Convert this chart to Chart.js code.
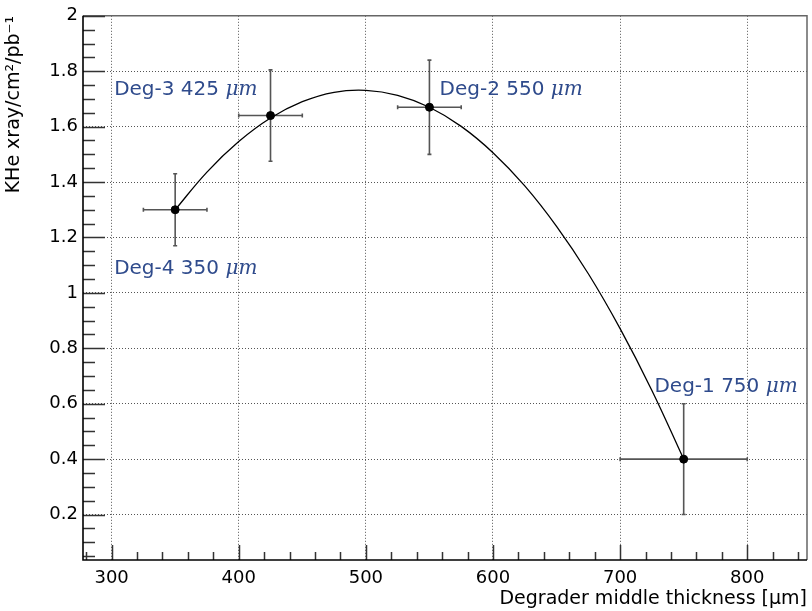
<!DOCTYPE html>
<html><head><meta charset="utf-8">
<script src="https://cdn.jsdelivr.net/npm/chart.js@4/dist/chart.umd.min.js"></script>
<style>html,body{margin:0;padding:0;background:#fff}#wrap{width:812px;height:611px}</style>
</head><body><div id="wrap"><canvas id="c" width="812" height="611"></canvas></div>
<script>
// ---- data ----
const degNames = ['Deg-4', 'Deg-3', 'Deg-2', 'Deg-1'];
const thickness = [350, 425, 550, 750];
const yieldVals = [1.30, 1.64, 1.67, 0.40];
const thicknessErr = [25, 25, 25, 50];
const yieldErr = [0.13, 0.165, 0.17, 0.20];
const fitX = [350, 375, 400, 425, 450, 475, 500, 525, 550, 575, 600, 625, 650, 675, 700, 725, 750];
const fitY = [1.300, 1.436, 1.546, 1.631, 1.690, 1.724, 1.731, 1.713, 1.670, 1.601, 1.506, 1.386, 1.240, 1.069, 0.871, 0.648, 0.400];
const xTicks = [300, 400, 500, 600, 700, 800];
const yTicks = [0.2, 0.4, 0.6, 0.8, 1, 1.2, 1.4, 1.6, 1.8, 2];
// annotation anchors (data coordinates of each label's left baseline)
const labelX = [302, 302, 558, 727];
const labelY = [1.068, 1.713, 1.713, 0.643];

const X_MIN = 277.5, X_MAX = 847, Y_MIN = 0.036, Y_MAX = 2;
const AXIS_FONT = "'DejaVu Sans', Arial";

const deco = {
  id: 'deco',
  beforeDatasetsDraw(chart) {
    const {ctx, scales: {x, y}} = chart;
    ctx.save();
    ctx.strokeStyle = '#555';
    ctx.lineWidth = 1.6;
    thickness.forEach((t, i) => {
      const px = x.getPixelForValue(t), py = y.getPixelForValue(yieldVals[i]);
      const x0 = x.getPixelForValue(t - thicknessErr[i]), x1 = x.getPixelForValue(t + thicknessErr[i]);
      const y0 = y.getPixelForValue(yieldVals[i] - yieldErr[i]), y1 = y.getPixelForValue(yieldVals[i] + yieldErr[i]);
      ctx.beginPath();
      ctx.moveTo(x0, py); ctx.lineTo(x1, py);
      ctx.moveTo(px, y0); ctx.lineTo(px, y1);
      ctx.moveTo(x0, py - 2); ctx.lineTo(x0, py + 2);
      ctx.moveTo(x1, py - 2); ctx.lineTo(x1, py + 2);
      ctx.moveTo(px - 2, y0); ctx.lineTo(px + 2, y0);
      ctx.moveTo(px - 2, y1); ctx.lineTo(px + 2, y1);
      ctx.stroke();
    });
    ctx.restore();
  },
  afterDraw(chart) {
    const {ctx, chartArea: a, scales: {x, y}} = chart;
    ctx.save();
    // top/right frame
    ctx.strokeStyle = '#666'; ctx.lineWidth = 1.5;
    ctx.beginPath();
    ctx.moveTo(a.left, a.top); ctx.lineTo(a.right, a.top); ctx.lineTo(a.right, a.bottom);
    ctx.stroke();
    // ticks
    ctx.strokeStyle = '#333'; ctx.lineWidth = 1.5;
    ctx.beginPath();
    for (let v = 280; v <= X_MAX; v += 20) {
      const px = Math.round(x.getPixelForValue(v)) + 0.5;
      const len = (v % 100 === 0) ? 15 : 8;
      ctx.moveTo(px, a.bottom); ctx.lineTo(px, a.bottom - len);
    }
    for (let k = 1; k <= 40; k++) {
      const v = k * 0.05;
      const py = Math.round(y.getPixelForValue(v)) + 0.5;
      const len = (k % 4 === 0) ? 22 : 12;
      ctx.moveTo(a.left, py); ctx.lineTo(a.left + len, py);
    }
    ctx.stroke();
    // axes
    ctx.strokeStyle = '#000'; ctx.lineWidth = 1.6;
    ctx.beginPath();
    ctx.moveTo(a.left, a.top); ctx.lineTo(a.left, a.bottom); ctx.lineTo(a.right, a.bottom);
    ctx.stroke();
    // labels
    ctx.fillStyle = '#2f4b8c';
    ctx.textBaseline = 'alphabetic';
    ctx.textAlign = 'left';
    degNames.forEach((n, i) => {
      const px = x.getPixelForValue(labelX[i]), py = y.getPixelForValue(labelY[i]);
      const main = n + ' ' + thickness[i] + ' ';
      ctx.font = "20px 'DejaVu Sans'";
      ctx.fillText(main, px, py);
      const w = ctx.measureText(main).width;
      ctx.font = "italic 20px 'DejaVu Serif'";
      ctx.fillText('\u03bcm', px + w, py);
    });
    ctx.restore();
  }
};

new Chart(document.getElementById('c'), {
  data: {
    datasets: [
      {
        type: 'line',
        data: fitX.map((v, i) => ({x: v, y: fitY[i]})),
        borderColor: '#000', borderWidth: 1.3, pointRadius: 0,
        tension: 0.4, fill: false
      },
      {
        type: 'scatter',
        data: thickness.map((v, i) => ({x: v, y: yieldVals[i]})),
        backgroundColor: '#000', borderColor: '#000', pointRadius: 4
      }
    ]
  },
  options: {
    responsive: false, animation: false, devicePixelRatio: 1,
    layout: {padding: {left: 0, top: 11, right: 3, bottom: 0}},
    plugins: {legend: {display: false}, tooltip: {enabled: false}},
    scales: {
      x: {
        type: 'linear', min: X_MIN, max: X_MAX,
        afterBuildTicks: s => { s.ticks = xTicks.map(v => ({value: v})); },
        afterFit: s => { s.height = 51; },
        grid: {color: '#555', lineWidth: 1, drawTicks: false},
        border: {display: false, dash: [1, 2]},
        ticks: {color: '#000', font: {family: AXIS_FONT, size: 18}, padding: 8, maxRotation: 0},
        title: {display: true, text: 'Degrader middle thickness [\u03bcm]', align: 'end', color: '#000',
                font: {family: AXIS_FONT, size: 19}, padding: {top: 0, bottom: 1}}
      },
      y: {
        type: 'linear', min: Y_MIN, max: Y_MAX,
        afterBuildTicks: s => { s.ticks = yTicks.map(v => ({value: v})); },
        afterFit: s => { s.width = 83; },
        grid: {color: '#555', lineWidth: 1, drawTicks: false},
        border: {display: false, dash: [1, 2]},
        ticks: {color: '#000', font: {family: AXIS_FONT, size: 18}, padding: 5,
                callback: v => String(Math.round(v * 10) / 10)},
        title: {display: true, text: 'KHe xray/cm\u00b2/pb\u207b\u00b9', align: 'end', color: '#000',
                font: {family: AXIS_FONT, size: 19}, padding: {top: 3, bottom: 0}}
      }
    }
  },
  plugins: [deco]
});
</script>
</body></html>
